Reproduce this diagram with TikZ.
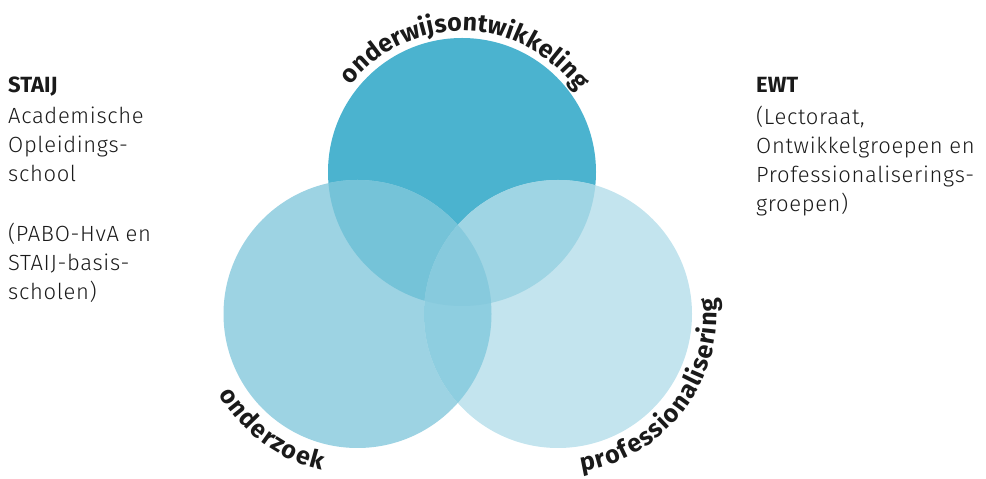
\documentclass[tikz,border=0pt]{standalone}
\usepackage{fontspec}
\setmainfont{Fira Sans}
\newfontfamily\bodyfont[LetterSpace=3]{Fira Sans Light}
\newfontfamily\labelfont{Fira Sans Bold}
\usetikzlibrary{decorations.text}
\definecolor{ctop}{HTML}{4BB3CF}
\definecolor{cleft}{HTML}{9DD3E3}
\definecolor{cright}{HTML}{C3E4EE}
\definecolor{ctl}{HTML}{75C3D8}
\definecolor{ctr}{HTML}{9FD5E4}
\definecolor{clr}{HTML}{8ECEE0}
\definecolor{call}{HTML}{87CADD}
\definecolor{ink}{HTML}{1A1A1A}
\tikzset{
  body/.style={anchor=base west, inner sep=0pt, text=ink,
    font=\bodyfont\fontsize{22}{29}\selectfont},
  head/.style={anchor=base west, inner sep=0pt, text=ink,
    font=\fontsize{22}{29}\selectfont\bfseries},
  arclabel/.style={decorate, decoration={text effects along path,
    text={#1}, text effects/.cd, text along path, fit text to path,
    characters={font=\labelfont\fontsize{25}{25}\selectfont, text=ink}}}
}
\begin{document}
\begin{tikzpicture}[x=1pt,y=1pt]
\useasboundingbox (0,0) rectangle (986,479);
% circle centres
\coordinate (T) at (462,307);
\coordinate (L) at (357.5,165);
\coordinate (R) at (558,165);
\def\rad{134pt}
% single regions
\fill[ctop] (T) circle (\rad);
\fill[cleft] (L) circle (\rad);
\fill[cright] (R) circle (\rad);
% pairwise overlaps
\begin{scope}
  \clip (T) circle (\rad);
  \fill[ctl] (L) circle (\rad);
  \fill[ctr] (R) circle (\rad);
\end{scope}
\begin{scope}
  \clip (L) circle (\rad);
  \fill[clr] (R) circle (\rad);
\end{scope}
% common centre
\begin{scope}
  \clip (T) circle (\rad);
  \clip (L) circle (\rad);
  \fill[call] (R) circle (\rad);
\end{scope}
% curved labels, spread over their arcs
\path[arclabel=onderwijsontwikkeling]
  (T) ++(142:141pt) arc[start angle=142, end angle=35, radius=141pt];
\path[arclabel=onderzoek]
  (L) ++(210:160pt) arc[start angle=210, end angle=257, radius=160pt];
\path[arclabel=professionalisering]
  (R) ++(278.5:159pt) arc[start angle=278.5, end angle=366, radius=159pt];
% left text block
\node[head] (s1) at (8,386) {STAIJ};
\node[body] (s2) at (8,355) {Academische};
\node[body] (s3) at (8,326) {Opleidings-};
\node[body] (s4) at (8,297) {school};
\node[body] (s5) at (8,237) {(PABO-HvA en};
\node[body] (s6) at (8,208) {STAIJ-basis-};
\node[body] (s7) at (8,179) {scholen)};
% right text block
\node[head] (e1) at (756,386) {EWT};
\node[body] (e2) at (756,354) {(Lectoraat,};
\node[body] (e3) at (756,325) {Ontwikkelgroepen en};
\node[body] (e4) at (756,296) {Professionaliserings-};
\node[body] (e5) at (756,267) {groepen)};
\end{tikzpicture}
\end{document}
